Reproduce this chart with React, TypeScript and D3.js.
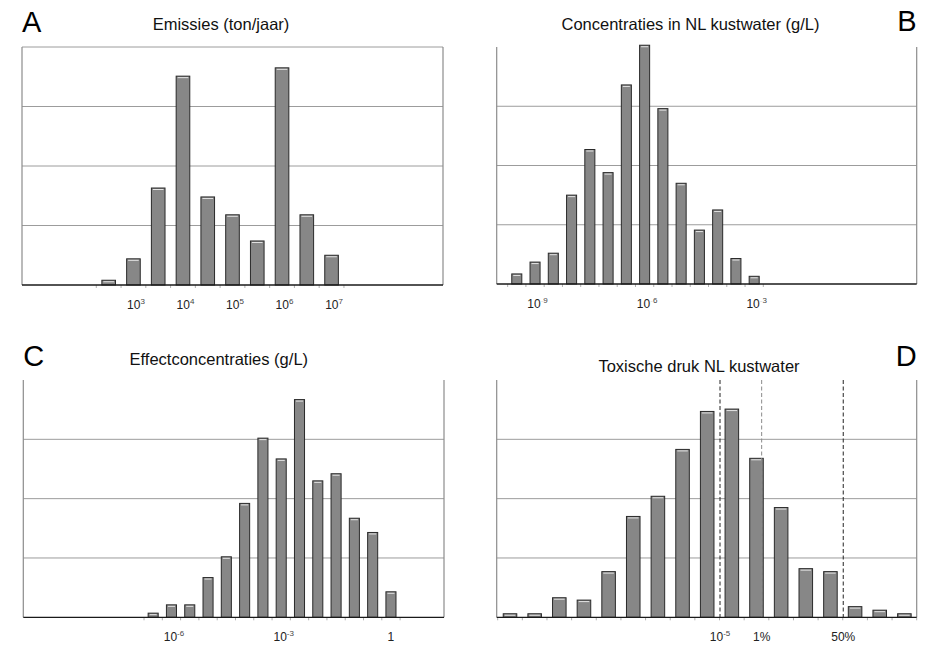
import React, { useEffect, useRef } from 'react';
import * as d3 from 'd3';

// A: emissions, bin centres in log10(ton/jaar), half-decade bins
const emissionBins = [2.5, 3, 3.5, 4, 4.5, 5, 5.5, 6, 6.5, 7];
const emissionCounts = [0.08, 0.44, 1.63, 3.51, 1.48, 1.18, 0.74, 3.65, 1.18, 0.5];
const emissionTicks = [3, 4, 5, 6, 7];
const emissionTickLabels = [
  { base: '10', sup: '3' },
  { base: '10', sup: '4' },
  { base: '10', sup: '5' },
  { base: '10', sup: '6' },
  { base: '10', sup: '7' },
];

// B: concentrations in coastal water, log10(g/L)
const concBins = [-9.5, -9, -8.5, -8, -7.5, -7, -6.5, -6, -5.5, -5, -4.5, -4, -3.5, -3];
const concCounts = [0.17, 0.37, 0.52, 1.5, 2.27, 1.88, 3.36, 4.03, 2.96, 1.7, 0.91, 1.25, 0.43, 0.13];
const concTicks = [-9, -6, -3];
const concTickLabels = [
  { base: '10', minus: true, sup: '9', faint: true },
  { base: '10', minus: true, sup: '6', faint: true },
  { base: '10', minus: true, sup: '3', faint: true },
];

// C: effect concentrations, log10(g/L)
const effectBins = [-6.5, -6, -5.5, -5, -4.5, -4, -3.5, -3, -2.5, -2, -1.5, -1, -0.5, 0];
const effectCounts = [0.07, 0.21, 0.21, 0.67, 1.02, 1.92, 3.02, 2.67, 3.67, 2.3, 2.42, 1.67, 1.43, 0.43];
const effectTicks = [-6, -3, 0];
const effectTickLabels = [
  { base: '10', minus: true, sup: '6' },
  { base: '10', minus: true, sup: '3' },
  { base: '1' },
];

// D: toxic pressure, bin index
const toxicBins = d3.range(17);
const toxicCounts = [0.06, 0.06, 0.33, 0.29, 0.77, 1.7, 2.04, 2.83, 3.47, 3.51, 2.68, 1.85, 0.82, 0.77, 0.18, 0.12, 0.06];
const toxicThresholds = [8.52, 10.21, 13.52];
const toxicThresholdLabels = [
  { base: '10', minus: true, sup: '5' },
  { base: '1%' },
  { base: '50%' },
];
const toxicThresholdColors = ['#222', '#8a8a8a', '#222'];

const gridValues = [1, 2, 3];

interface TickLabel {
  base: string;
  sup?: string;
  minus?: boolean;
  faint?: boolean;
}

interface PanelConfig {
  letter: string;
  letterSide: 'left' | 'right';
  title: string;
  titleX: number;
  titleY: number;
  letterY: number;
  left: number;
  right: number;
  top: number;
  bottom: number;
  domain: [number, number];
  binWidth: number;
  bins: number[];
  counts: number[];
  ticks: number[];
  tickLabels: TickLabel[];
  labelDx: number;
  topBorder?: boolean;
  markers?: number[];
  markerColors?: string[];
}

const FONT = "'Liberation Sans', Arial, Helvetica, sans-serif";

function drawPanel(svg: d3.Selection<SVGSVGElement, unknown, null, undefined>, p: PanelConfig) {
  const g = svg.append('g');
  const x = d3.scaleLinear().domain(p.domain).range([p.left, p.right]);
  const y = d3.scaleLinear().domain([0, 4]).range([p.bottom, p.top]);

  // grid
  g.selectAll('line.grid')
    .data(p.topBorder ? [...gridValues, 4] : gridValues)
    .enter()
    .append('line')
    .attr('x1', p.left)
    .attr('x2', p.right)
    .attr('y1', (d) => y(d))
    .attr('y2', (d) => y(d))
    .attr('stroke', '#9c9c9c')
    .attr('stroke-width', 1);

  // side borders
  [p.left, p.right].forEach((xx) => {
    g.append('line')
      .attr('x1', xx)
      .attr('x2', xx)
      .attr('y1', p.top)
      .attr('y2', p.bottom)
      .attr('stroke', '#8c8c8c')
      .attr('stroke-width', 1.2);
  });

  // bin edge ticks
  const edges = [...p.bins.map((b) => b - p.binWidth / 2), p.bins[p.bins.length - 1] + p.binWidth / 2];
  g.selectAll('line.tick')
    .data(edges)
    .enter()
    .append('line')
    .attr('x1', (d) => x(d))
    .attr('x2', (d) => x(d))
    .attr('y1', p.bottom)
    .attr('y2', p.bottom + 3)
    .attr('stroke', '#b0b0b0');

  // bars
  const bw = ((x(p.binWidth) - x(0)) * 0.55);
  const bars = g
    .selectAll('g.bar')
    .data(p.bins.map((b, i) => ({ b, v: p.counts[i] })))
    .enter()
    .append('g');

  bars
    .append('rect')
    .attr('x', (d) => x(d.b) - bw / 2)
    .attr('y', (d) => y(d.v))
    .attr('width', bw)
    .attr('height', (d) => p.bottom - y(d.v))
    .attr('fill', '#878787')
    .attr('stroke', '#2a2a2a')
    .attr('stroke-width', 1);

  bars
    .filter((d) => p.bottom - y(d.v) > 3)
    .append('line')
    .attr('x1', (d) => x(d.b) - bw / 2 + 1.5)
    .attr('x2', (d) => x(d.b) + bw / 2 - 1.5)
    .attr('y1', (d) => y(d.v) + 1.5)
    .attr('y2', (d) => y(d.v) + 1.5)
    .attr('stroke', '#e4e4e4')
    .attr('stroke-width', 1);

  // threshold markers
  if (p.markers) {
    p.markers.forEach((m, i) => {
      g.append('line')
        .attr('x1', x(m))
        .attr('x2', x(m))
        .attr('y1', p.top)
        .attr('y2', p.bottom)
        .attr('stroke', p.markerColors ? p.markerColors[i] : '#222')
        .attr('stroke-width', 1)
        .attr('stroke-dasharray', '4,2.5');
    });
  }

  // bottom axis line
  g.append('line')
    .attr('x1', p.left)
    .attr('x2', p.right)
    .attr('y1', p.bottom)
    .attr('y2', p.bottom)
    .attr('stroke', '#1a1a1a')
    .attr('stroke-width', 1.3);

  // tick labels
  p.ticks.forEach((t, i) => {
    const lab = p.tickLabels[i];
    const text = g
      .append('text')
      .attr('x', x(t) + (lab.sup ? p.labelDx : 0))
      .attr('y', p.bottom + 23.5)
      .attr('text-anchor', 'middle')
      .attr('font-family', FONT)
      .attr('font-size', '12px')
      .attr('fill', '#222');
    text.append('tspan').text(lab.base);
    if (lab.sup) {
      const sup = text.append('tspan').attr('font-size', '8px').attr('dy', -5);
      if (lab.minus) {
        sup.append('tspan').attr('fill', lab.faint ? '#d8d8d8' : '#444').text('-');
      }
      sup.append('tspan').attr('fill', '#444').text(lab.sup);
    }
  });

  // title
  g.append('text')
    .attr('x', p.titleX)
    .attr('y', p.titleY)
    .attr('text-anchor', 'middle')
    .attr('font-family', FONT)
    .attr('font-size', '16.5px')
    .attr('fill', '#111')
    .text(p.title);

  // panel letter
  g.append('text')
    .attr('x', p.letterSide === 'left' ? p.left : p.right)
    .attr('y', p.letterY)
    .attr('text-anchor', p.letterSide === 'left' ? 'start' : 'end')
    .attr('font-family', FONT)
    .attr('font-size', '29px')
    .attr('fill', '#000')
    .text(p.letter);
}

export default function App() {
  const svgRef = useRef<SVGSVGElement>(null);

  useEffect(() => {
    if (!svgRef.current) return;
    const svg = d3.select(svgRef.current);
    svg.selectAll('*').remove();

    svg.append('rect').attr('width', 925).attr('height', 646).attr('fill', '#fff');

    drawPanel(svg, {
      letter: 'A',
      letterSide: 'left',
      title: 'Emissies (ton/jaar)',
      titleX: 221,
      titleY: 30,
      letterY: 31.5,
      left: 22,
      right: 443,
      top: 47,
      bottom: 285,
      domain: [0.75, 9.25],
      binWidth: 0.5,
      bins: emissionBins,
      counts: emissionCounts,
      ticks: emissionTicks,
      tickLabels: emissionTickLabels,
      labelDx: 2.5,
      topBorder: true,
    });

    drawPanel(svg, {
      letter: 'B',
      letterSide: 'right',
      title: 'Concentraties in NL kustwater (g/L)',
      titleX: 690.5,
      titleY: 29.5,
      letterY: 31,
      left: 496.7,
      right: 916.7,
      top: 47,
      bottom: 284,
      domain: [-10.05, 1.45],
      binWidth: 0.5,
      bins: concBins,
      counts: concCounts,
      ticks: concTicks,
      tickLabels: concTickLabels,
      labelDx: 2.5,
    });

    drawPanel(svg, {
      letter: 'C',
      letterSide: 'left',
      title: 'Effectconcentraties (g/L)',
      titleX: 218.8,
      titleY: 365,
      letterY: 365.5,
      left: 23.3,
      right: 444,
      top: 380,
      bottom: 617.3,
      domain: [-10.05, 1.45],
      binWidth: 0.5,
      bins: effectBins,
      counts: effectCounts,
      ticks: effectTicks,
      tickLabels: effectTickLabels,
      labelDx: 2.5,
    });

    drawPanel(svg, {
      letter: 'D',
      letterSide: 'right',
      title: 'Toxische druk NL kustwater',
      titleX: 699,
      titleY: 371.5,
      letterY: 365.5,
      left: 496.7,
      right: 916.7,
      top: 380,
      bottom: 617.3,
      domain: [-0.54, 16.5],
      binWidth: 1,
      bins: toxicBins,
      counts: toxicCounts,
      ticks: toxicThresholds,
      tickLabels: toxicThresholdLabels,
      labelDx: 0,
      markers: toxicThresholds,
      markerColors: toxicThresholdColors,
    });
  }, []);

  return (
    <div style={{ position: 'absolute', left: 0, top: 0 }}>
      <svg ref={svgRef} width={925} height={646} style={{ display: 'block' }} />
    </div>
  );
}
